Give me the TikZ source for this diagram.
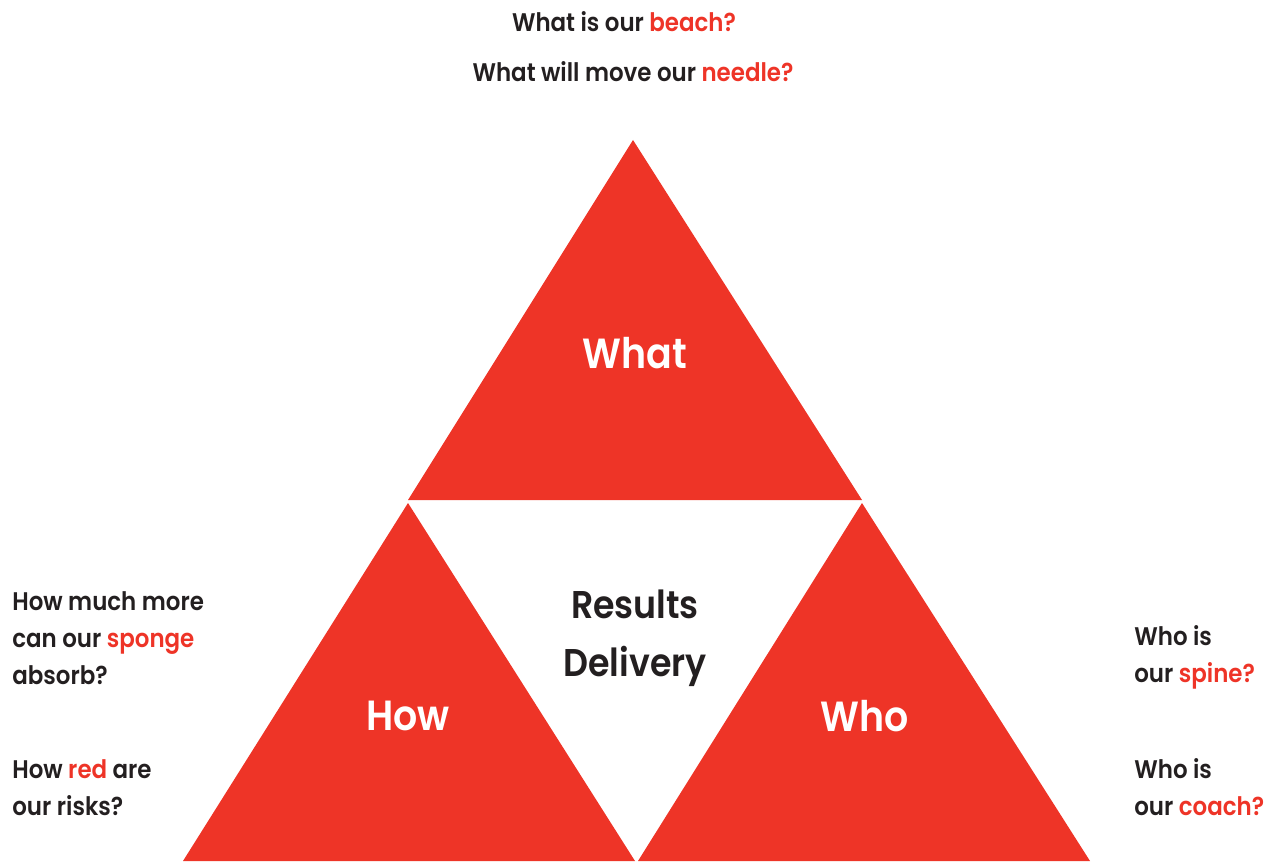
\documentclass[tikz,border=0pt]{standalone}
\usepackage{fontspec}
\setmainfont{Poppins}[BoldFont=* SemiBold, FakeStretch=0.9]
\usetikzlibrary{positioning}
\definecolor{rdred}{RGB}{238,52,39}
\definecolor{rdink}{RGB}{35,31,32}
\begin{document}
\begin{tikzpicture}[
  tri/.style={fill=rdred, draw=none},
  trilabel/.style={text=white, font=\fontsize{24}{30}\selectfont\bfseries},
  question/.style={text=rdink, align=left, anchor=west, inner sep=0pt, font=\fontsize{14.5}{21}\selectfont\bfseries},
  topq/.style={text=rdink, inner sep=0pt, font=\fontsize{14.5}{21}\selectfont\bfseries}]
\useasboundingbox (0,0) rectangle (25.4,17.22);
% Triangles
\coordinate (wtop) at (12.66,14.42);
\coordinate (wl) at (8.16,7.22);
\coordinate (wr) at (17.24,7.22);
\coordinate (htop) at (8.16,7.16);
\coordinate (hl) at (3.66,0);
\coordinate (hr) at (12.70,0);
\coordinate (otop) at (17.24,7.16);
\coordinate (ol) at (12.76,0);
\coordinate (or) at (21.80,0);
\fill[tri] (wtop) -- (wl) -- (wr) -- cycle;
\fill[tri] (htop) -- (hl) -- (hr) -- cycle;
\fill[tri] (otop) -- (ol) -- (or) -- cycle;
\node[trilabel] (what) at (12.70,10.16) {What};
\node[trilabel] (how) at (8.16,2.90) {How};
\node[trilabel] (who) at (17.30,2.90) {Who};
\node[text=rdink, align=center, font=\fontsize{22}{33}\selectfont\bfseries] (results) at (12.70,4.46) {Results\\Delivery};
% Questions
\node[topq] (beach) at (12.48,16.78) {What is our \textcolor{rdred}{beach?}};
\node[topq] (needle) at (12.66,15.78) {What will move our \textcolor{rdred}{needle?}};
\node[question] (sponge) at (0.24,4.46) {How much more\\can our \textcolor{rdred}{sponge}\\absorb?};
\node[question] (risks) at (0.24,1.47) {How \textcolor{rdred}{red} are\\our risks?};
\node[question] (spine) at (22.68,4.07) {Who is\\our \textcolor{rdred}{spine?}};
\node[question] (coach) at (22.68,1.47) {Who is\\our \textcolor{rdred}{coach?}};
\end{tikzpicture}
\end{document}
